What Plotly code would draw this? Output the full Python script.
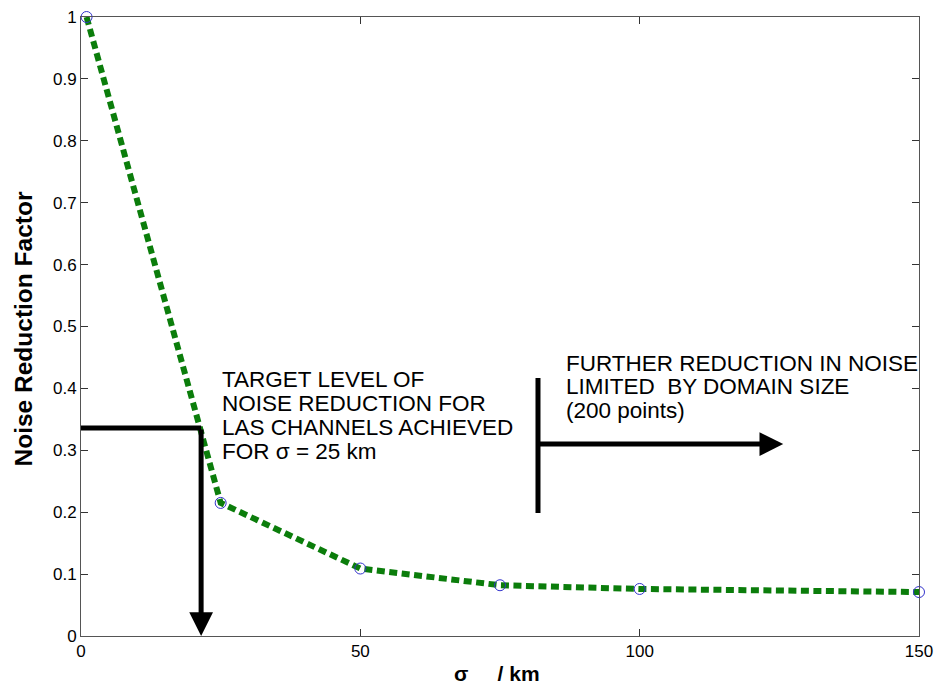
import plotly.graph_objects as go

# Smoothing length scale (km) and resulting noise reduction factor
sigma_km = [1, 25, 50, 75, 100, 150]
reduction = [1.0, 0.215, 0.109, 0.082, 0.076, 0.071]

x_ticks = [0, 50, 100, 150]
y_ticks = [0, 0.1, 0.2, 0.3, 0.4, 0.5, 0.6, 0.7, 0.8, 0.9, 1]

target_lines = ["TARGET LEVEL OF", "NOISE REDUCTION FOR",
                "LAS CHANNELS ACHIEVED", "FOR σ = 25 km"]
limit_lines = ["FURTHER REDUCTION IN NOISE", "LIMITED  BY DOMAIN SIZE", "(200 points)"]

# Annotation geometry (data units)
target_level = 0.336
target_sigma = 21.5
limit_sigma = 81.8
limit_bar = [0.1987, 0.4168]
limit_arrow_y = 0.310
limit_arrow_end = 125.7

FONT = "Liberation Sans, Arial, Helvetica, sans-serif"
TEXT_SIZE = 22.5

fig = go.Figure()
fig.add_trace(go.Scatter(
    x=sigma_km, y=reduction, mode="lines+markers",
    line=dict(color="#0b7d0b", width=6, dash="8px,4.5px"),
    marker=dict(symbol="circle-open", size=11, color="#3333cc", line=dict(width=1)),
    showlegend=False, cliponaxis=False,
))

# Horizontal lead-in line at the target level
fig.add_shape(type="line", x0=0, x1=target_sigma, y0=target_level, y1=target_level,
              line=dict(color="black", width=5))
# Down arrow to the sigma axis
fig.add_annotation(x=target_sigma, y=0, ax=target_sigma, ay=target_level,
                   xref="x", yref="y", axref="x", ayref="y", text="",
                   showarrow=True, arrowhead=2, arrowsize=0.95, arrowwidth=5,
                   arrowcolor="black", standoff=0)
# Vertical bar marking the domain limit
fig.add_shape(type="line", x0=limit_sigma, x1=limit_sigma, y0=limit_bar[0], y1=limit_bar[1],
              line=dict(color="black", width=5))
# Right arrow beyond the limit
fig.add_annotation(x=limit_arrow_end, y=limit_arrow_y, ax=limit_sigma, ay=limit_arrow_y,
                   xref="x", yref="y", axref="x", ayref="y", text="",
                   showarrow=True, arrowhead=2, arrowsize=0.95, arrowwidth=5,
                   arrowcolor="black", standoff=0)

# Multi-line notes, one annotation per line for tight leading
def add_note(lines, x, y, step):
    for i, line in enumerate(lines):
        fig.add_annotation(x=x, y=y, xref="x", yref="y", xanchor="left", yanchor="middle",
                           yshift=-step * i, text=line, showarrow=False, align="left",
                           font=dict(family=FONT, size=TEXT_SIZE, color="black"))

add_note(target_lines, 24.9, 0.4136, 24)
add_note(limit_lines, 86.4, 0.441, 23.5)

axis_common = dict(
    showgrid=False, zeroline=False, showline=True, linecolor="#555555", linewidth=1,
    mirror="ticks", ticks="inside", ticklen=7, tickcolor="#333333", automargin=False,
    tickfont=dict(family=FONT, size=17, color="black"),
)
fig.update_xaxes(range=[0, 150], tickvals=x_ticks, ticktext=[str(v) for v in x_ticks],
                 **axis_common)
fig.update_yaxes(range=[0, 1], tickvals=y_ticks, ticktext=[f"{v:g}" for v in y_ticks],
                 **axis_common)

# Axis titles
fig.add_annotation(x=0.5, y=0, xref="paper", yref="paper", xanchor="center", yanchor="middle",
                   xshift=-3, yshift=-37, text="<b>σ     / km</b>", showarrow=False,
                   font=dict(family=FONT, size=21, color="black"))
fig.add_annotation(x=0, y=0.5, xref="paper", yref="paper", xanchor="center", yanchor="middle",
                   xshift=-58, yshift=-3, textangle=-90, text="<b>Noise Reduction Factor</b>",
                   showarrow=False, font=dict(family=FONT, size=24.5, color="black"))

fig.update_layout(
    width=937, height=687,
    margin=dict(l=81, r=18, t=17, b=51),
    paper_bgcolor="white", plot_bgcolor="white",
    font=dict(family=FONT),
)

fig.write_html("out.html")
